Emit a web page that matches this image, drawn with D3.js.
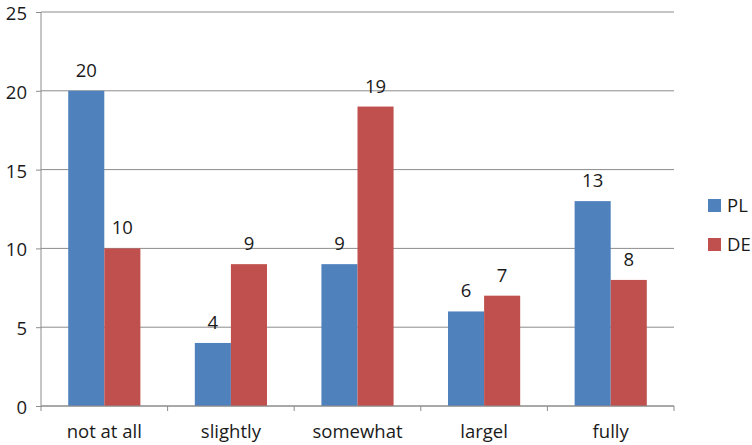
<!DOCTYPE html>
<html>
<head>
<meta charset="utf-8">
<script src="https://cdn.jsdelivr.net/npm/d3@7"></script>
<style>
  html, body { margin: 0; padding: 0; background: #fff; }
  svg { display: block; font-family: "Open Sans", "DejaVu Sans", sans-serif; }
</style>
</head>
<body>
<svg id="chart" width="752" height="445"></svg>
<script>
// Survey answers per level of agreement, by country
const categories = ["not at all", "slightly", "somewhat", "largel", "fully"];
const seriesNames = ["PL", "DE"];
const plValues = [20, 4, 9, 6, 13];
const deValues = [10, 9, 19, 7, 8];
const yTicks = [0, 5, 10, 15, 20, 25];
const colors = ["#4F81BD", "#C0504D"];

const svg = d3.select("#chart");
const margin = { left: 41, right: 78, top: 12, bottom: 39 };
const width = 752 - margin.left - margin.right;
const height = 445 - margin.top - margin.bottom;
const fontSize = 18.5;

const g = svg.append("g").attr("transform", `translate(${margin.left},${margin.top})`);

const x = d3.scaleBand().domain(categories).range([0, width]).paddingInner(0).paddingOuter(0);
const inner = d3.scaleBand().domain(seriesNames).range([x.bandwidth() * 0.215, x.bandwidth() * 0.785]);
const y = d3.scaleLinear().domain([0, 25]).range([height, 0]);

const axisColor = "#8c8c8c";
const textColor = "#1a1a1a";

// horizontal gridlines
g.append("g").selectAll("line").data(yTicks).join("line")
  .attr("x1", 0).attr("x2", width)
  .attr("y1", d => y(d)).attr("y2", d => y(d))
  .attr("stroke", axisColor).attr("stroke-width", 1);

// bars
const rows = categories.map((c, i) => ({ cat: c, vals: [plValues[i], deValues[i]] }));
const groups = g.selectAll(".grp").data(rows).join("g")
  .attr("transform", d => `translate(${x(d.cat)},0)`);

groups.selectAll("rect").data(d => d.vals.map((v, j) => ({ name: seriesNames[j], v, j }))).join("rect")
  .attr("x", d => inner(d.name))
  .attr("width", inner.bandwidth())
  .attr("y", d => y(d.v))
  .attr("height", d => y(0) - y(d.v))
  .attr("fill", d => colors[d.j]);

groups.selectAll("text").data(d => d.vals.map((v, j) => ({ name: seriesNames[j], v, j }))).join("text")
  .attr("x", d => inner(d.name) + inner.bandwidth() / 2)
  .attr("y", d => y(d.v) - 14)
  .attr("text-anchor", "middle")
  .attr("font-size", fontSize)
  .attr("fill", textColor)
  .text(d => d.v);

// y axis
const yAxis = g.append("g").call(d3.axisLeft(y).tickValues(yTicks).tickSize(5).tickPadding(9));
yAxis.select(".domain").attr("stroke", axisColor).attr("d", `M0,${height}V0`);
yAxis.selectAll(".tick line").attr("stroke", axisColor);
yAxis.selectAll(".tick text")
  .attr("font-size", fontSize)
  .attr("dy", "0.4em")
  .attr("fill", textColor)
  .attr("font-family", "'Open Sans', sans-serif");

// x axis with ticks at category boundaries
const xAxis = g.append("g").attr("transform", `translate(0,${height})`);
xAxis.append("line").attr("x1", 0).attr("x2", width).attr("stroke", axisColor);
const bounds = d3.range(categories.length + 1).map(i => i * x.step());
xAxis.selectAll(".bt").data(bounds).join("line")
  .attr("x1", d => d).attr("x2", d => d).attr("y1", 0).attr("y2", 5)
  .attr("stroke", axisColor);
xAxis.selectAll(".lbl").data(categories).join("text")
  .attr("x", d => x(d) + x.bandwidth() / 2)
  .attr("y", 32)
  .attr("text-anchor", "middle")
  .attr("font-size", fontSize)
  .attr("fill", textColor)
  .text(d => d);

// legend
const legend = svg.append("g").attr("transform", "translate(708,199)");
seriesNames.forEach((n, i) => {
  const row = legend.append("g").attr("transform", `translate(0,${i * 39})`);
  row.append("rect").attr("width", 13).attr("height", 13).attr("fill", colors[i]);
  row.append("text").attr("x", 19).attr("y", 13).attr("font-size", fontSize).attr("fill", textColor).text(n);
});
</script>
</body>
</html>
